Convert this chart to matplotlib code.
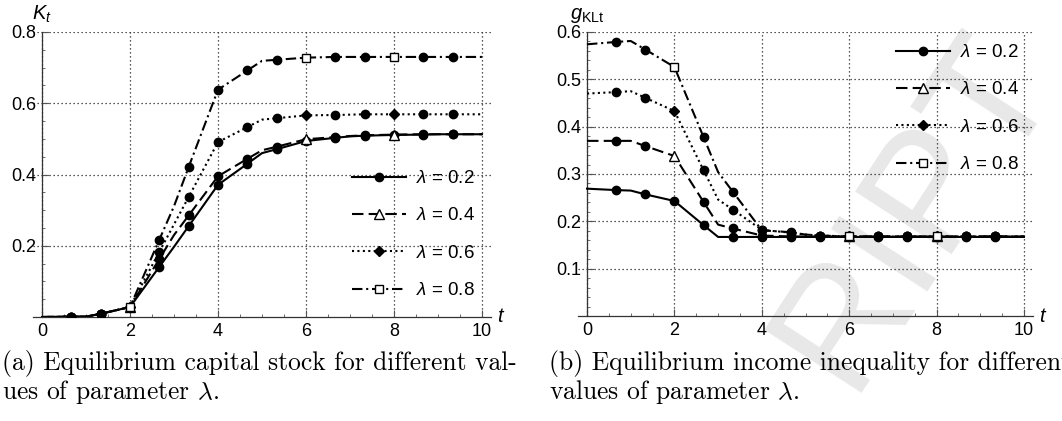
import matplotlib

matplotlib.use("Agg")
import matplotlib.pyplot as plt
from matplotlib.lines import Line2D
from matplotlib.ticker import FixedLocator, MultipleLocator

# time grid: integer steps plus mesh points every 2/3
T = [0, 2/3, 1, 4/3, 2, 8/3, 3, 10/3, 4, 14/3, 5, 16/3, 6, 20/3, 7, 22/3, 8, 26/3, 9, 28/3, 10]

lambdas = ["0.2", "0.4", "0.6", "0.8"]

# (a) capital stock K_t
K_02 = [0, 0.001, 0.001, 0.009, 0.028, 0.141, 0.197, 0.255, 0.371, 0.430, 0.460,
        0.471, 0.494, 0.503, 0.507, 0.509, 0.511, 0.512, 0.513, 0.513, 0.513]
K_04 = [0, 0.001, 0.001, 0.009, 0.028, 0.163, 0.230, 0.285, 0.395, 0.444, 0.468,
        0.478, 0.499, 0.505, 0.508, 0.510, 0.512, 0.513, 0.513, 0.513, 0.513]
K_06 = [0, 0.001, 0.001, 0.009, 0.028, 0.183, 0.260, 0.337, 0.491, 0.533, 0.554,
        0.558, 0.566, 0.567, 0.568, 0.569, 0.569, 0.569, 0.569, 0.569, 0.569]
K_08 = [0, 0.001, 0.001, 0.009, 0.028, 0.217, 0.311, 0.421, 0.638, 0.692, 0.719,
        0.722, 0.728, 0.730, 0.730, 0.730, 0.730, 0.730, 0.730, 0.730, 0.730]

# (b) income inequality g_KLt
G_02 = [0.269, 0.266, 0.265, 0.257, 0.243, 0.192, 0.167, 0.167, 0.167, 0.167, 0.167,
        0.167, 0.167, 0.167, 0.167, 0.167, 0.167, 0.167, 0.167, 0.167, 0.167]
G_04 = [0.370, 0.370, 0.370, 0.359, 0.338, 0.241, 0.193, 0.185, 0.170, 0.168, 0.168,
        0.168, 0.168, 0.168, 0.168, 0.168, 0.168, 0.168, 0.168, 0.168, 0.168]
G_06 = [0.470, 0.473, 0.475, 0.461, 0.433, 0.308, 0.246, 0.225, 0.182, 0.176, 0.172,
        0.170, 0.168, 0.168, 0.168, 0.168, 0.168, 0.168, 0.168, 0.168, 0.168]
G_08 = [0.574, 0.579, 0.581, 0.563, 0.526, 0.378, 0.304, 0.263, 0.181, 0.177, 0.172,
        0.170, 0.168, 0.168, 0.168, 0.168, 0.168, 0.168, 0.168, 0.168, 0.168]

captions = [
    "(a) Equilibrium capital stock for different val-\nues of parameter $\\lambda$.",
    "(b) Equilibrium income inequality for different\nvalues of parameter $\\lambda$.",
]

plt.rcParams["font.family"] = ["Liberation Sans", "DejaVu Sans"]
plt.rcParams["mathtext.fontset"] = "custom"
plt.rcParams["mathtext.rm"] = "Liberation Sans"
plt.rcParams["mathtext.it"] = "Liberation Sans:italic"

styles = [
    dict(ls="-", special=dict(marker="o", mfc="black", ms=6)),
    dict(ls=(0, (5.5, 2.5)), special=dict(marker="^", mfc="white", ms=6.5)),
    dict(ls=(0, (1, 1.6)), special=dict(marker="D", mfc="black", ms=5.5)),
    dict(ls=(0, (5, 1.8, 1, 1.8)), special=dict(marker="s", mfc="white", ms=6)),
]
circle_idx = [1, 3, 5, 7, 8, 9, 11, 13, 15, 17, 19]
special_idx = [4, 12, 16]

fig = plt.figure(figsize=(10.62, 4.21), dpi=100)

# faint watermark behind the panels
fig.text(0.862, 0.50, "RIPT", rotation=57, fontsize=120, color="#e8e8e8",
         ha="center", va="center", zorder=-5)

ax_a = fig.add_axes([33.2 / 1062, 104 / 421, 457.6 / 1062, 285 / 421])
ax_b = fig.add_axes([578.3 / 1062, 105 / 421, 454.4 / 1062, 284 / 421])


def draw_panel(ax, series, ymax, ymajor, yminor, ylabel):
    ax.patch.set_alpha(0)
    for y, st in zip(series, styles):
        ax.plot(T, y, color="black", lw=1.5, ls=st["ls"], zorder=3)
        ax.plot([T[i] for i in circle_idx], [y[i] for i in circle_idx], ls="none",
                marker="o", ms=6, mfc="black", mec="black", zorder=4)
        sp = st["special"]
        ax.plot([T[i] for i in special_idx], [y[i] for i in special_idx], ls="none",
                marker=sp["marker"], ms=sp["ms"], mfc=sp["mfc"], mec="black",
                mew=1.0, zorder=5)

    ax.set_xlim(-0.2, 10.2)
    ax.set_ylim(0, ymax)
    for s in ("top", "right"):
        ax.spines[s].set_visible(False)
    ax.spines["left"].set_position(("data", 0))
    ax.spines["bottom"].set_position(("data", 0))
    ax.spines["left"].set_bounds(0, ymax)
    for s in ("left", "bottom"):
        ax.spines[s].set_linewidth(0.9)
        ax.spines[s].set_color("#333333")

    ax.xaxis.set_major_locator(FixedLocator([0, 2, 4, 6, 8, 10]))
    ax.xaxis.set_minor_locator(MultipleLocator(0.5))
    yt = [round(ymajor * k, 2) for k in range(1, int(round(ymax / ymajor)) + 1)]
    ax.yaxis.set_major_locator(FixedLocator(yt))
    ax.set_yticklabels([f"{v:g}" for v in yt])
    ax.yaxis.set_minor_locator(MultipleLocator(yminor))
    ax.tick_params(which="both", direction="in", labelsize=13, color="#555555")
    ax.tick_params(which="major", length=5, width=0.8, pad=4)
    ax.tick_params(which="minor", length=2.5, width=0.6)

    ax.grid(True, which="major", ls=(0, (1, 2.2)), lw=0.9, color="#222222", zorder=1)

    ax.text(10.35, 0, "$t$", fontsize=14.5, va="center", ha="left",
            transform=ax.transData, clip_on=False)
    ax.text(0, ymax * 1.025, ylabel, fontsize=14.5, va="bottom", ha="center",
            clip_on=False)


draw_panel(ax_a, [K_02, K_04, K_06, K_08], 0.8, 0.2, 0.05, "$K_t$")
draw_panel(ax_b, [G_02, G_04, G_06, G_08], 0.6, 0.1, 0.02, r"$g_{\mathrm{KLt}}$")

handles = []
for st in styles:
    sp = st["special"]
    handles.append(Line2D([], [], color="black", lw=1.5, ls=st["ls"], marker=sp["marker"],
                          ms=sp["ms"], mfc=sp["mfc"], mec="black"))
labels = [rf"$\lambda$ = {v}" for v in lambdas]

for ax, anchor in ((ax_a, (352 / 1062, 1 - 170 / 421)), (ax_b, (896 / 1062, 1 - 44 / 421))):
    ax.legend(handles, labels, loc="upper left", bbox_to_anchor=anchor,
              bbox_transform=fig.transFigure, frameon=False, fontsize=13.5,
              handlelength=2.9, handletextpad=0.5, labelspacing=1.08,
              borderpad=0, borderaxespad=0, numpoints=1)

fig.text(2 / 1062, 1 - 350 / 421, captions[0], family="cmr10", math_fontfamily="cm",
         fontsize=18.4, va="top", ha="left", linespacing=1.05)
fig.text(549 / 1062, 1 - 350 / 421, captions[1], family="cmr10", math_fontfamily="cm",
         fontsize=18.4, va="top", ha="left", linespacing=1.05)

fig.savefig("out.png", dpi=100)
